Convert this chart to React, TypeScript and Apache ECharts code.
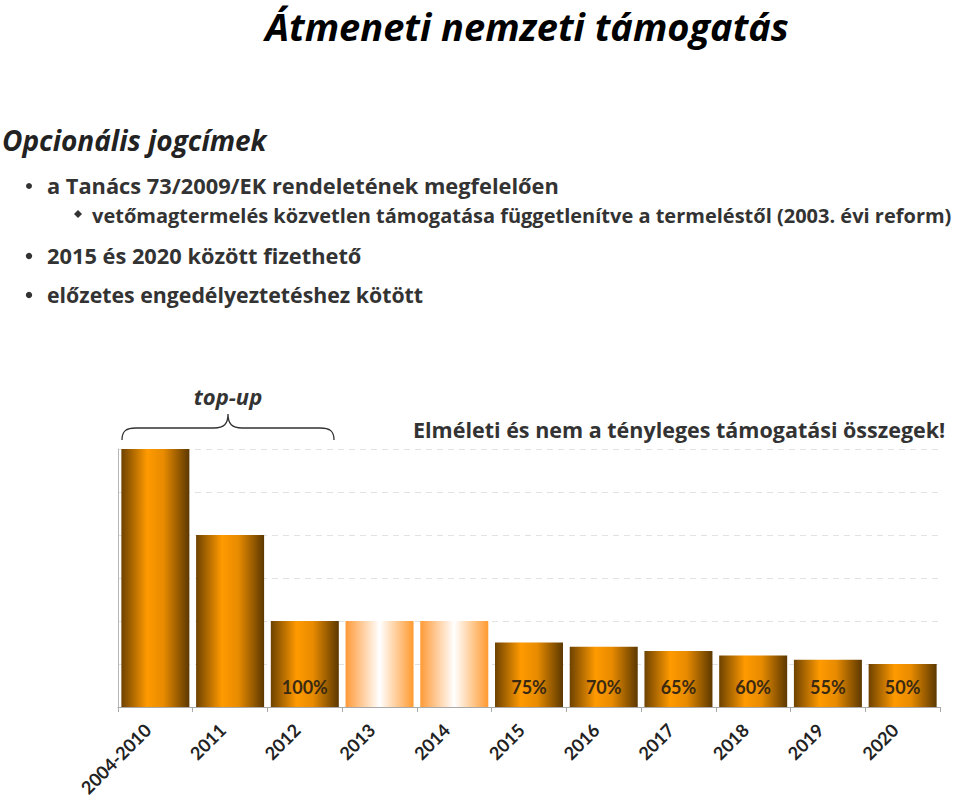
import React, { useEffect, useRef } from "react";
import * as echarts from "echarts";

const categories = ["2004-2010", "2011", "2012", "2013", "2014", "2015", "2016", "2017", "2018", "2019", "2020"];
const values = [6, 4, 2, 2, 2, 1.5, 1.4, 1.3, 1.2, 1.1, 1.0];
const pctLabels = ["", "", "100%", "", "", "75%", "70%", "65%", "60%", "55%", "50%"];
const lightBars = [false, false, false, true, true, false, false, false, false, false, false];

const titleText = "Átmeneti nemzeti támogatás";
const subtitleText = "Opcionális jogcímek";
const bulletLines = [
  "a Tanács 73/2009/EK rendeletének megfelelően",
  "2015 és 2020 között fizethető",
  "előzetes engedélyeztetéshez kötött",
];
const subBulletText = "vetőmagtermelés közvetlen támogatása függetlenítve a termeléstől (2003. évi reform)";
const topUpText = "top-up";
const noteText = "Elméleti és nem a tényleges támogatási összegek!";

const FONT = "'Open Sans', Lato, sans-serif";
const AXFONT = "Lato, 'Open Sans', sans-serif";

const darkGradient = {
  type: "linear", x: 0, y: 0, x2: 1, y2: 0,
  colorStops: [
    { offset: 0, color: "#6e4200" },
    { offset: 0.38, color: "#ff9a00" },
    { offset: 0.62, color: "#e88b00" },
    { offset: 1, color: "#5c3800" },
  ],
};
const lightGradient = {
  type: "linear", x: 0, y: 0, x2: 1, y2: 0,
  colorStops: [
    { offset: 0, color: "#ff9a38" },
    { offset: 0.5, color: "#ffffff" },
    { offset: 1, color: "#ff9a30" },
  ],
};

const braceD = "M122,440 C122,431 126,428 136,428 L214,428 C224,428 228,424 228,414 C228,424 232,428 242,428 L320,428 C330,428 334,431 334,440";

echarts.graphic.registerShape("brace", echarts.graphic.extendPath(braceD, {}) as any);

export default function App() {
  const ref = useRef<HTMLDivElement>(null);
  useEffect(() => {
    if (!ref.current) return;
    const chart = echarts.init(ref.current, null, { renderer: "svg" });
    const textStyleBullet = { fontFamily: FONT, fontWeight: "bold", fill: "#333333" };
    const graphics: any[] = [
      { type: "text", x: 527, y: 7, style: { text: titleText, fontFamily: FONT, fontWeight: "bold", fontStyle: "italic", fontSize: 38, lineHeight: 38, fill: "#000000", align: "center", verticalAlign: "top" } },
      { type: "text", x: 2, y: 140, style: { text: subtitleText, fontFamily: FONT, fontWeight: "bold", fontStyle: "italic", fontSize: 28, fill: "#222222", align: "left", verticalAlign: "middle" } },
      { type: "circle", shape: { cx: 29, cy: 186, r: 3 }, style: { fill: "#333333" } },
      { type: "text", x: 47, y: 185, style: { ...textStyleBullet, text: bulletLines[0], fontSize: 21.8, verticalAlign: "middle" } },
      { type: "polygon", shape: { points: [[78, 210], [82, 214], [78, 218], [74, 214]] }, style: { fill: "#333333" } },
      { type: "text", x: 92, y: 215, style: { ...textStyleBullet, text: subBulletText, fontSize: 20, verticalAlign: "middle" } },
      { type: "circle", shape: { cx: 29, cy: 256, r: 3.2 }, style: { fill: "#333333" } },
      { type: "text", x: 47, y: 255, style: { ...textStyleBullet, text: bulletLines[1], fontSize: 21.8, verticalAlign: "middle" } },
      { type: "circle", shape: { cx: 29, cy: 295, r: 3.2 }, style: { fill: "#333333" } },
      { type: "text", x: 47, y: 294, style: { ...textStyleBullet, text: bulletLines[2], fontSize: 21.3, verticalAlign: "middle" } },
      { type: "text", x: 228, y: 396, style: { text: topUpText, fontFamily: FONT, fontWeight: "bold", fontStyle: "italic", fontSize: 22, fill: "#333333", align: "center", verticalAlign: "middle" } },
      { type: "brace", x: 0, y: 0, style: { fill: "none", stroke: "#333333", lineWidth: 1.3 } },
      { type: "text", x: 413, y: 429, style: { text: noteText, fontFamily: FONT, fontWeight: "bold", fontSize: 21.5, fill: "#333333", align: "left", verticalAlign: "middle" } },
    ];
    chart.setOption({
      animation: false,
      backgroundColor: "#ffffff",
      grid: { left: 118, right: 20, top: 449, bottom: 100, containLabel: false },
      xAxis: {
        type: "category",
        data: categories,
        boundaryGap: true,
        axisLine: { show: true, lineStyle: { color: "#a9a9a9", width: 1 } },
        axisTick: { show: true, length: 5, lineStyle: { color: "#a9a9a9" } },
        axisLabel: {
          rotate: 45, interval: 0, margin: 12,
          padding: [0, 11, 0, 0],
          fontFamily: AXFONT, fontWeight: "bold", fontSize: 18, color: "#222222",
        },
      },
      yAxis: {
        type: "value",
        min: 0, max: 6, interval: 1,
        axisLabel: { show: false },
        axisTick: { show: false },
        axisLine: { show: true, lineStyle: { color: "#b5b5b5", width: 1 } },
        splitLine: { show: true, lineStyle: { color: "#e2e2e2", type: [6, 5], width: 1 } },
      },
      series: [
        {
          type: "bar",
          data: values.map((v, i) => ({
            value: v,
            itemStyle: { color: lightBars[i] ? lightGradient : darkGradient },
            label: { formatter: pctLabels[i] },
          })),
          barCategoryGap: "9%",
          label: {
            show: true,
            position: "insideBottom",
            distance: 11,
            fontFamily: AXFONT,
            fontWeight: "bold",
            fontSize: 18,
            color: "#3b2a12",
          },
        },
      ],
      graphic: graphics,
    });
    return () => chart.dispose();
  }, []);
  return <div ref={ref} style={{ position: "fixed", left: 0, top: 0, width: 960, height: 807 }} />;
}
